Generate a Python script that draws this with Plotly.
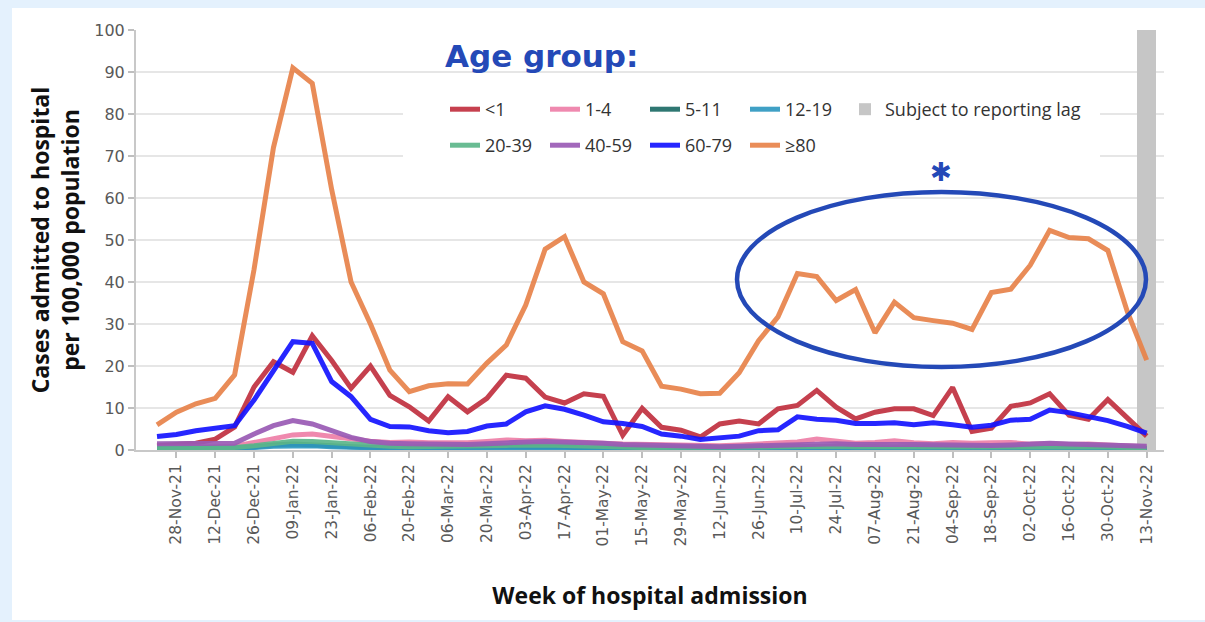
import pandas as pd
import plotly.graph_objects as go

# ---------------- data ----------------
weeks = pd.date_range("2021-11-21", periods=52, freq="7D")
tick_weeks = weeks[1::2]
tick_labels = [d.strftime("%d-%b-%y") for d in tick_weeks]

age_groups = ["<1", "1-4", "5-11", "12-19", "20-39", "40-59", "60-79", "≥80"]

under1 = [1.0, 1.2, 1.6, 2.6, 5.5, 15.0, 21.0, 18.5, 27.2, 21.3, 14.7, 20.0, 13.0, 10.3, 6.9,
          12.7, 9.1, 12.3, 17.8, 17.1, 12.6, 11.2, 13.4, 12.8, 3.5, 9.9, 5.4, 4.7, 3.1, 6.2,
          6.9, 6.2, 9.8, 10.6, 14.2, 10.2, 7.4, 9.0, 9.8, 9.8, 8.2, 14.9, 4.4, 5.2, 10.4,
          11.2, 13.4, 8.3, 7.3, 12.0, 7.8, 3.3]
age1_4 = [0.6, 0.6, 0.7, 0.8, 0.9, 1.8, 3.0, 3.6, 3.8, 3.2, 2.6, 2.1, 1.8, 1.9, 1.7, 1.6,
          1.7, 2.0, 2.4, 2.2, 2.3, 2.0, 1.7, 1.6, 1.4, 1.3, 1.2, 1.0, 0.9, 1.0, 1.2, 1.4,
          1.6, 1.9, 2.6, 2.0, 1.6, 1.8, 2.2, 1.7, 1.5, 1.8, 1.6, 1.7, 1.8, 1.4, 1.5, 1.3,
          1.4, 1.2, 1.1, 0.8]
age5_11 = [0.3, 0.3, 0.3, 0.3, 0.4, 0.7, 1.2, 1.4, 1.3, 1.0, 0.8, 0.6, 0.5, 0.5, 0.5, 0.5,
           0.6, 0.7, 0.7, 0.8, 0.8, 0.7, 0.5, 0.4, 0.3, 0.3, 0.3, 0.2, 0.2, 0.2, 0.2, 0.3,
           0.3, 0.4, 0.4, 0.4, 0.3, 0.3, 0.3, 0.3, 0.3, 0.3, 0.3, 0.3, 0.3, 0.3, 0.3, 0.3,
           0.3, 0.3, 0.3, 0.3]
age12_19 = [0.4, 0.4, 0.4, 0.4, 0.4, 0.6, 0.9, 1.0, 1.0, 0.8, 0.6, 0.5, 0.4, 0.4, 0.4, 0.4,
            0.5, 0.5, 0.6, 0.6, 0.6, 0.5, 0.5, 0.4, 0.4, 0.4, 0.3, 0.3, 0.3, 0.3, 0.3, 0.4,
            0.4, 0.5, 0.5, 0.5, 0.4, 0.4, 0.4, 0.4, 0.4, 0.4, 0.4, 0.4, 0.4, 0.4, 0.5, 0.4,
            0.4, 0.4, 0.4, 0.3]
age20_39 = [0.5, 0.5, 0.5, 0.5, 0.6, 1.0, 1.7, 2.1, 2.0, 1.7, 1.4, 1.1, 0.9, 0.8, 0.8, 0.8,
            0.9, 1.0, 1.1, 1.2, 1.2, 1.1, 0.9, 0.8, 0.7, 0.6, 0.6, 0.5, 0.5, 0.5, 0.6, 0.7,
            0.8, 0.9, 1.0, 0.9, 0.8, 0.8, 0.8, 0.8, 0.7, 0.8, 0.7, 0.7, 0.8, 0.8, 0.9, 0.8,
            0.8, 0.7, 0.6, 0.5]
age40_59 = [1.5, 1.5, 1.5, 1.5, 1.6, 3.8, 5.8, 7.0, 6.2, 4.6, 3.0, 2.0, 1.6, 1.5, 1.4, 1.3,
            1.3, 1.5, 1.8, 1.9, 2.0, 1.9, 1.7, 1.6, 1.3, 1.2, 1.0, 0.9, 0.8, 0.8, 0.9, 1.0,
            1.1, 1.4, 1.5, 1.5, 1.3, 1.2, 1.3, 1.3, 1.2, 1.2, 1.1, 1.1, 1.2, 1.4, 1.6, 1.4,
            1.3, 1.2, 1.1, 0.9]
age60_79 = [3.2, 3.7, 4.6, 5.3, 5.8, 11.9, 19.0, 25.8, 25.4, 16.3, 12.7, 7.3, 5.6, 5.5, 4.6,
            4.1, 4.4, 5.7, 6.2, 9.1, 10.5, 9.7, 8.3, 6.7, 6.3, 5.6, 3.8, 3.3, 2.5, 3.0, 3.3,
            4.6, 4.8, 7.9, 7.3, 7.1, 6.3, 6.3, 6.5, 6.0, 6.5, 6.0, 5.4, 5.9, 7.1, 7.3, 9.5,
            8.9, 7.9, 7.0, 5.6, 4.0]
age80plus = [6.0, 9.0, 11.0, 12.3, 17.9, 43.0, 72.0, 91.0, 87.3, 62.0, 40.0, 30.0, 19.0, 13.9,
             15.3, 15.8, 15.7, 20.7, 25.0, 34.5, 47.8, 50.8, 40.0, 37.2, 25.8, 23.6, 15.2,
             14.5, 13.4, 13.5, 18.4, 26.0, 31.7, 42.0, 41.3, 35.6, 38.2, 27.9, 35.2, 31.5,
             30.8, 30.2, 28.7, 37.5, 38.3, 44.0, 52.3, 50.6, 50.3, 47.5, 33.0, 21.4]

series = [under1, age1_4, age5_11, age12_19, age20_39, age40_59, age60_79, age80plus]
colors = ["#c1303f", "#ee7fa8", "#1d6b66", "#2f98c0", "#5cb68a", "#9a5bb5", "#1414ff", "#e8834a"]

lag_weeks = [weeks[-1]]
lag_height = [100]
lag_label = "Subject to reporting lag"

# ---------------- figure ----------------
fig = go.Figure()

for i, (name, vals, col) in enumerate(zip(age_groups, series, colors)):
    fig.add_trace(go.Scatter(
        x=weeks, y=vals, name=name, mode="lines",
        line=dict(color=col, width=5),
        opacity=0.92,
        legend="legend" if i < 4 else "legend2",
    ))

fig.add_trace(go.Bar(
    x=lag_weeks, y=lag_height, name=lag_label,
    width=[7 * 24 * 3600 * 1000],
    marker=dict(color="#c6c6c6", line=dict(width=0)),
    legend="legend", legendwidth=230,
))

L, R, T, B = 136, 41, 30, 172
W, H = 1205, 622
pw, ph = W - L - R, H - T - B

def px(xp):
    return (xp - L) / pw

def py(yp):
    return (H - B - yp) / ph

legend_font = dict(family="Liberation Sans Narrow, Open Sans, sans-serif", size=18, color="#333333")
title_font = dict(family="Liberation Sans Narrow, Open Sans, sans-serif", size=23, color="#111111")

fig.update_layout(
    width=W, height=H,
    margin=dict(l=L, r=R, t=T, b=B),
    paper_bgcolor="#e4f1fd",
    plot_bgcolor="#ffffff",
    bargap=0,
    showlegend=True,
    legend=dict(
        orientation="h", x=px(445), y=py(91), xanchor="left", yanchor="top",
        entrywidth=55, entrywidthmode="pixels",
        font=legend_font, bgcolor="rgba(0,0,0,0)", traceorder="normal",
    ),
    legend2=dict(
        orientation="h", x=px(445), y=py(127), xanchor="left", yanchor="top",
        entrywidth=55, entrywidthmode="pixels",
        font=legend_font, bgcolor="rgba(0,0,0,0)", traceorder="normal",
    ),
    xaxis=dict(
        range=[pd.Timestamp("2021-11-13 10:00"), pd.Timestamp("2022-11-19 06:00")],
        tickmode="array", tickvals=tick_weeks, ticktext=tick_labels, tickangle=-90,
        tickfont=dict(family="DejaVu Sans, Verdana, sans-serif", size=15.5, color="#595959"),
        ticks="outside", ticklen=6, tickcolor="#bfbfbf", tickwidth=1.5,
        showgrid=False, showline=True, linecolor="#c8c8c8", linewidth=2,
        title=dict(text="<b>Week of hospital admission</b>", standoff=42, font=title_font),
    ),
    yaxis=dict(
        range=[0, 100], tickmode="linear", tick0=0, dtick=10,
        tickfont=dict(family="DejaVu Sans, Verdana, sans-serif", size=16, color="#595959"),
        ticks="outside", ticklen=6, tickcolor="#bfbfbf", tickwidth=1.5,
        showgrid=True, gridcolor="#e6e6e6", gridwidth=2,
        showline=True, linecolor="#c8c8c8", linewidth=2, zeroline=False,
        title=dict(text="<b>Cases admitted to hospital<br>per 100,000 population</b>", standoff=8,
                   font=title_font),
    ),
    shapes=[
        # white card
        dict(type="rect", xref="paper", yref="paper", layer="below",
             x0=px(12), x1=px(1205), y0=py(620), y1=py(8),
             fillcolor="#ffffff", line=dict(width=0)),
        # legend background
        dict(type="rect", xref="paper", yref="paper", layer="above",
             x0=px(403), x1=px(1100), y0=py(165), y1=py(86),
             fillcolor="#ffffff", line=dict(width=0)),
        # highlight ellipse
        dict(type="circle", xref="paper", yref="paper", layer="above",
             x0=px(737), x1=px(1146), y0=py(367), y1=py(192),
             line=dict(color="#2449b7", width=4.5)),
    ],
    annotations=[
        dict(text="<b>Age group:</b>", xref="paper", yref="paper",
             x=px(443), y=py(56), xanchor="left", yanchor="middle", showarrow=False,
             font=dict(family="DejaVu Sans, sans-serif", size=31, color="#2449b7")),
        dict(text="✱", xref="paper", yref="paper",
             x=px(941), y=py(172), xanchor="center", yanchor="middle", showarrow=False,
             font=dict(family="DejaVu Sans, sans-serif", size=26, color="#2449b7")),
    ],
)

fig.write_html(
    "out.html",
    config={"displayModeBar": False},
    post_script="document.body.style.margin='0';document.body.style.overflow='hidden';",
)
